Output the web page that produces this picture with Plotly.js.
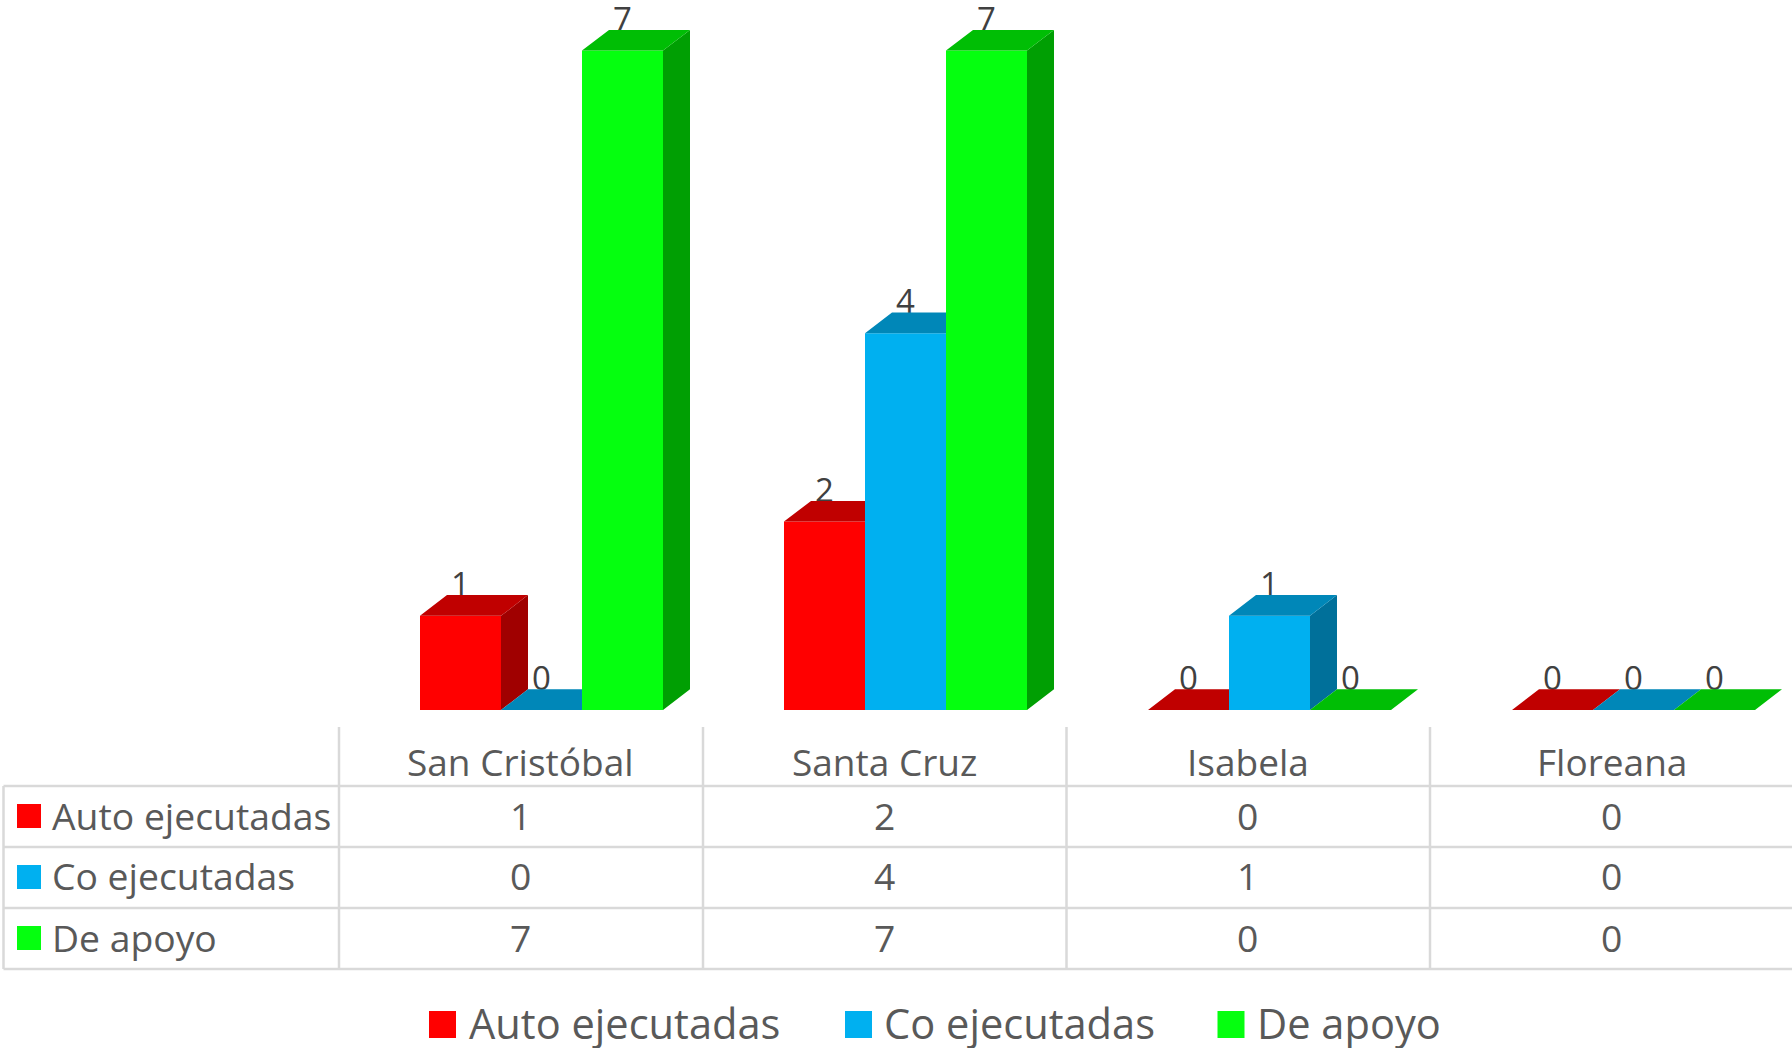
<!DOCTYPE html>
<html>
<head>
<meta charset="utf-8">
<script src="https://cdn.plot.ly/plotly-3.0.1.min.js"></script>
<style>html,body{margin:0;padding:0;background:#fff}#chart{width:1792px;height:1048px}</style>
</head>
<body>
<div id="chart"></div>
<script>
// ---- data ----
const categories = ['San Cristóbal', 'Santa Cruz', 'Isabela', 'Floreana'];
const seriesNames = ['Auto ejecutadas', 'Co ejecutadas', 'De apoyo'];
const autoEjecutadas = [1, 2, 0, 0];
const coEjecutadas = [0, 4, 1, 0];
const deApoyo = [7, 7, 0, 0];

// ---- styles ----
const frontColors = ['#FF0000', '#00B0F0', '#05FF0F'];
const topColors = ['#C00000', '#0087B8', '#00BE05'];
const sideColors = ['#A00000', '#00709A', '#009F03'];
const FONT = '"Open Sans", "Noto Sans", sans-serif';
const TEXT = '#595959', LABEL = '#404040', GRID = '#D9D9D9';

// ---- layout geometry (pixels of the 1792x1048 page) ----
const W = 1792, H = 1048, BASE_Y = 710;
const CAT_STEP = 364, FIRST_CAT = 541.5, PX_PER_UNIT = 94.2;
const BAR_PX = 81, DEPTH_X_PX = 27, DEPTH_Y_PX = 20.7, LABEL_DROP_PX = 9;
const barW = BAR_PX / CAT_STEP, depthX = DEPTH_X_PX / CAT_STEP, depthY = DEPTH_Y_PX / PX_PER_UNIT;
const labelLift = (DEPTH_Y_PX - LABEL_DROP_PX) / PX_PER_UNIT;
const COL_X = [339, 703, 1066.5, 1430, 1794];
const ROW_Y = [786, 847, 908, 969];
const TABLE_TOP = 727, TABLE_LEFT = 3.5;
// paper coordinates are relative to the plot area: x spans the page, y ends at the bar baseline
const px = v => v / W, py = v => (BASE_Y - v) / BASE_Y;

const values = [autoEjecutadas, coEjecutadas, deApoyo];
const xIdx = categories.map((_, i) => i);
const traces = [];

// data labels sit behind the bars
values.forEach((vals, s) => {
  const off = (s - 1) * barW;
  traces.push({
    type: 'scatter', mode: 'text', showlegend: false, hoverinfo: 'skip', cliponaxis: false, zorder: 0,
    x: xIdx.map(i => i + off), y: vals.map(v => v + labelLift),
    text: vals.map(String), textposition: 'top center',
    textfont: {family: FONT, size: 33, color: LABEL}
  });
});

values.forEach((vals, s) => {
  const off = (s - 1) * barW;
  const topX = [], topY = [], sideX = [], sideY = [];
  vals.forEach((v, i) => {
    const l = i + off - barW / 2, r = i + off + barW / 2;
    topX.push(l, r, r + depthX, l + depthX, l, null);
    topY.push(v, v, v + depthY, v + depthY, v, null);
    sideX.push(r, r + depthX, r + depthX, r, r, null);
    sideY.push(0, depthY, v + depthY, v, 0, null);
  });
  const z = s + 1;
  traces.push({type: 'bar', name: seriesNames[s], x: xIdx.map(i => i + off), y: vals, width: barW,
    marker: {color: frontColors[s], line: {width: 0}}, showlegend: false, zorder: z, hoverinfo: 'name+y'});
  traces.push({type: 'scatter', mode: 'lines', x: sideX, y: sideY, fill: 'toself', fillcolor: sideColors[s],
    line: {width: 0, color: sideColors[s]}, showlegend: false, hoverinfo: 'skip', zorder: z});
  traces.push({type: 'scatter', mode: 'lines', x: topX, y: topY, fill: 'toself', fillcolor: topColors[s],
    line: {width: 0, color: topColors[s]}, showlegend: false, hoverinfo: 'skip', zorder: z});
});

// ---- data table and legend ----
const shapes = [], annotations = [];
const gridLine = (x0, y0, x1, y1) => shapes.push({type: 'line', xref: 'paper', yref: 'paper',
  x0: px(x0), y0: py(y0), x1: px(x1), y1: py(y1), line: {color: GRID, width: 2.5}});
const swatch = (x, y, size, color) => shapes.push({type: 'rect', xref: 'paper', yref: 'paper',
  x0: px(x), x1: px(x + size), y0: py(y), y1: py(y + size), fillcolor: color, line: {width: 0}});
const label = (text, x, y, size, anchor) => annotations.push({text, xref: 'paper', yref: 'paper',
  x: px(x), y: py(y), xanchor: anchor, yanchor: 'middle', showarrow: false,
  font: {family: FONT, size, color: TEXT}});

ROW_Y.forEach(y => gridLine(TABLE_LEFT, y, W + 2, y));
gridLine(TABLE_LEFT, ROW_Y[0], TABLE_LEFT, ROW_Y[3]);
COL_X.forEach(x => gridLine(x, TABLE_TOP, x, ROW_Y[3]));

const HEADER_FONT = 37, TABLE_FONT = 37.3, LEGEND_FONT = 41.6;
categories.forEach((c, i) => label(c, (COL_X[i] + COL_X[i + 1]) / 2 - 0.5, 761.5, HEADER_FONT, 'center'));
seriesNames.forEach((n, s) => {
  const cy = (ROW_Y[s] + ROW_Y[s + 1]) / 2;
  swatch(17, cy - 12 - 0.5, 24, frontColors[s]);
  label(n, 49.5, cy - 1.5, TABLE_FONT, 'left');
  values[s].forEach((v, i) => label(String(v), (COL_X[i] + COL_X[i + 1]) / 2 - 0.5, cy - 1.5, TABLE_FONT, 'center'));
});
const LEG_SWATCH_X = [429, 845, 1217.5], LEG_TEXT_X = [467, 882, 1255];
seriesNames.forEach((n, s) => {
  swatch(LEG_SWATCH_X[s], 1011, 27, frontColors[s]);
  label(n, LEG_TEXT_X[s], 1023, LEGEND_FONT, 'left');
});

const layout = {
  width: W, height: H, showlegend: false,
  margin: {l: 0, r: 0, t: 0, b: H - BASE_Y, pad: 0},
  paper_bgcolor: '#fff', plot_bgcolor: '#fff',
  barmode: 'overlay',
  xaxis: {type: 'linear', visible: false, fixedrange: true,
    range: [-FIRST_CAT / CAT_STEP, (W - FIRST_CAT) / CAT_STEP]},
  yaxis: {type: 'linear', visible: false, fixedrange: true, range: [0, BASE_Y / PX_PER_UNIT]},
  shapes, annotations
};
Plotly.newPlot('chart', traces, layout, {displayModeBar: false, responsive: false});
</script>
</body>
</html>
